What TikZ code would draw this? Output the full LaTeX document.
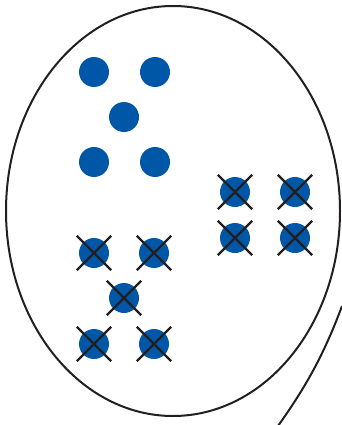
\documentclass[tikz,border=0pt]{standalone}
\usepackage{tikz}
\usetikzlibrary{shapes.geometric,shapes.misc}
\definecolor{dotblue}{HTML}{0057A8}
\definecolor{inkgray}{HTML}{231F20}

\begin{document}
\begin{tikzpicture}[
      x=1pt, y=-1pt,
      setline/.style={draw=inkgray, line width=2pt},
      dot/.style={
        circle, fill=dotblue, inner sep=0pt,
        minimum size=30pt
      },
      xmark/.style={
        cross out, draw=inkgray, line width=2.4pt,
        inner sep=0pt, minimum size=32pt
      }
    ]
    \useasboundingbox (0,0) rectangle (341,425);

    % ===== The set and the neighbouring boundary =====
    \node[setline, ellipse, minimum width=334pt, minimum height=410pt,
      inner sep=0pt] (set) at (173,211) {};
    \draw[setline] (342,306) .. controls (322,360) and (302,392) .. (278,426);

    % ===== Top group: plain dots =====
    \node[dot] (a1) at (94,72) {};
    \node[dot] (a2) at (155,72) {};
    \node[dot] (a3) at (124,117) {};
    \node[dot] (a4) at (94,162) {};
    \node[dot] (a5) at (155,162) {};

    % ===== Bottom group: crossed dots =====
    \node[dot] (b1) at (94,253) {};
    \node[dot] (b2) at (154,253) {};
    \node[dot] (b3) at (124,298) {};
    \node[dot] (b4) at (94,344) {};
    \node[dot] (b5) at (154,344) {};

    % ===== Right group: crossed dots =====
    \node[dot] (c1) at (235,192) {};
    \node[dot] (c2) at (295,192) {};
    \node[dot] (c3) at (235,238) {};
    \node[dot] (c4) at (295,238) {};

    % ===== Crosses over the dots =====
    \foreach \n in {b1,b2,b3,b4,b5,c1,c2,c3,c4}
      \node[xmark] at (\n) {};
  \end{tikzpicture}
\end{document}
